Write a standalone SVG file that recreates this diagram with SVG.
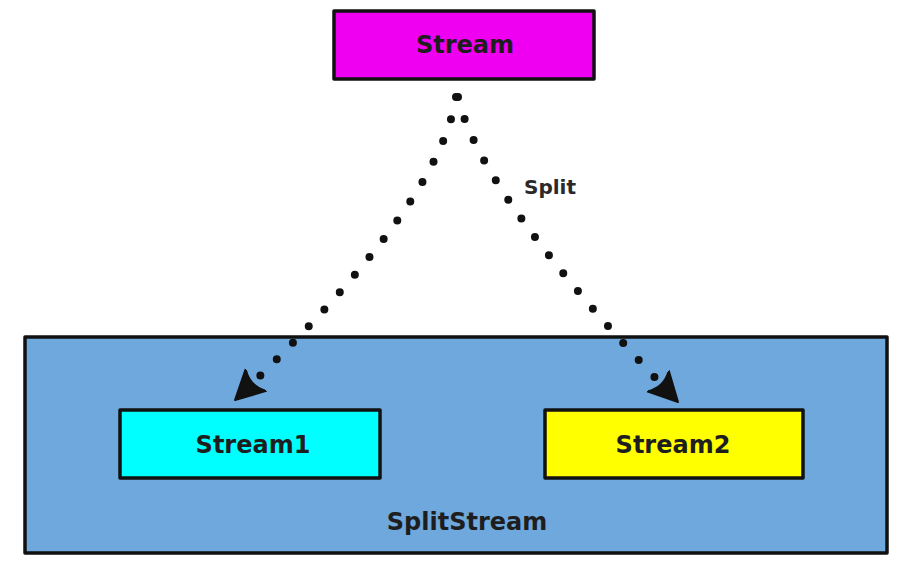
<svg xmlns="http://www.w3.org/2000/svg" width="910" height="564" viewBox="0 0 910 564">
<defs>
<style>
.box{stroke:#111;stroke-width:3.5;stroke-linejoin:round}
.lbl{font-family:"DejaVu Sans",sans-serif;font-weight:bold;font-size:24px;fill:#1e1e1e;text-anchor:middle}
.edge{fill:none;stroke:#111;stroke-width:8;stroke-linecap:round;stroke-dasharray:0 23}
.elbl{font-family:"DejaVu Sans",sans-serif;font-weight:bold;font-size:20px;fill:#2a2a2a;text-anchor:middle}
</style>
<marker id="arrow" viewBox="0 0 30 34" refX="29" refY="17" markerWidth="30" markerHeight="34" markerUnits="userSpaceOnUse" orient="auto">
<path d="M0,2 L29,17 L0,32 Q9,17 0,2 Z" fill="#111" stroke="#111" stroke-width="2" stroke-linejoin="round"/>
</marker>
</defs>
<rect width="910" height="564" fill="#ffffff"/>
<g id="splitstream">
<rect class="box" x="25" y="337" width="862" height="216" fill="#6fa8dc"/>
<text class="lbl" x="467" y="530">SplitStream</text>
</g>
<g id="stream">
<rect class="box" x="334" y="11" width="260" height="68" fill="#f000f0"/>
<text class="lbl" x="465" y="53">Stream</text>
</g>
<g id="stream1">
<rect class="box" x="120" y="410" width="260" height="68" fill="#00ffff"/>
<text class="lbl" x="253" y="453">Stream1</text>
</g>
<g id="stream2">
<rect class="box" x="545" y="410" width="258" height="68" fill="#ffff00"/>
<text class="lbl" x="673" y="453">Stream2</text>
</g>
<g id="connectors">
<path class="edge" d="M456,97 Q440,205 235,400" marker-end="url(#arrow)"/>
<path class="edge" d="M458,97 Q480,195 678,402" marker-end="url(#arrow)"/>
<text class="elbl" x="550" y="194">Split</text>
</g>
</svg>
